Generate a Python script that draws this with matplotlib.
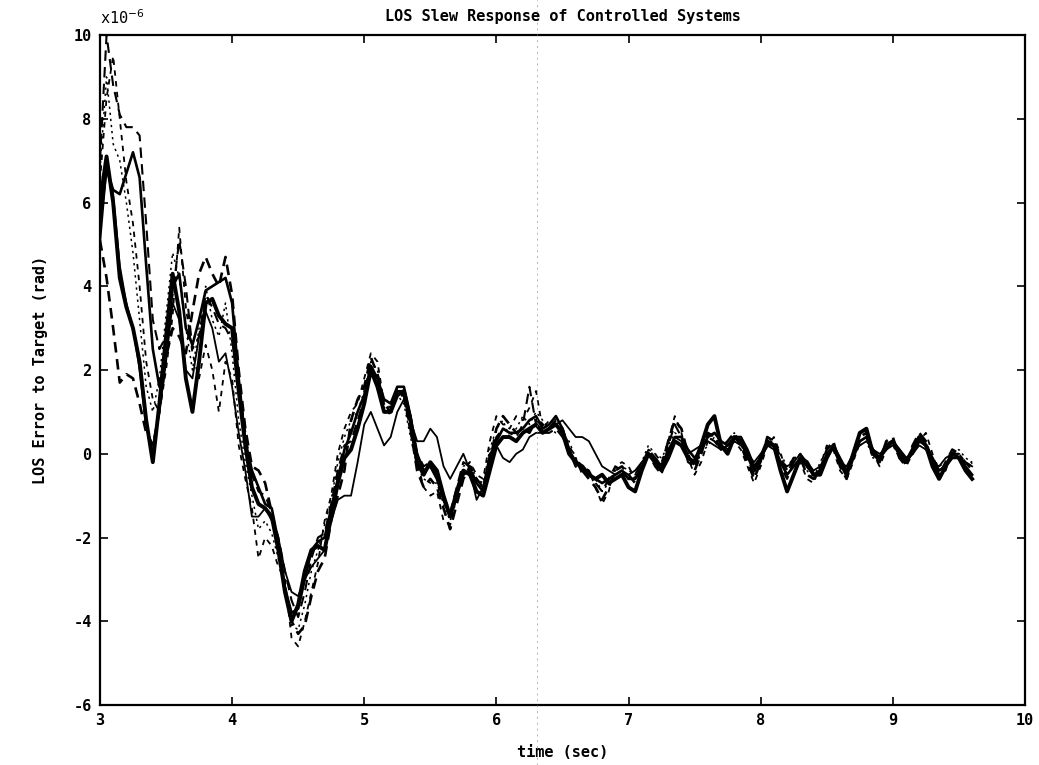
import matplotlib
matplotlib.use("Agg")
import matplotlib.pyplot as plt
from matplotlib.lines import Line2D
import numpy as np

plt.rcParams["axes.unicode_minus"] = False

# time base (sec), 0.05 s samples from 3.0 to 9.6
t = np.round(np.arange(3.0, 9.6001, 0.05), 2)

# LOS error responses (x1e-6 rad)
thick_solid = [
    6.0, 7.1, 6.0, 4.2, 3.5, 3.0, 2.2, 0.8, -0.2, 1.2,
    2.8, 4.3, 3.4, 1.8, 1.0, 2.2, 3.6, 3.7, 3.3, 3.1,
    3.0, 1.5, 0.2, -0.8, -1.2, -1.3, -1.5, -2.3, -3.3, -4.0,
    -3.6, -2.8, -2.3, -2.2, -2.3, -1.5, -0.7, -0.1, 0.1, 0.6,
    1.2, 2.0, 1.6, 1.0, 1.0, 1.4, 1.5, 0.8, -0.2, -0.5,
    -0.2, -0.4, -1.0, -1.5, -0.9, -0.4, -0.5, -0.9, -1.0, -0.4,
    0.2, 0.4, 0.4, 0.3, 0.5, 0.6, 0.7, 0.5, 0.6, 0.7,
    0.5, 0.0, -0.2, -0.3, -0.5, -0.6, -0.5, -0.7, -0.6, -0.5,
    -0.8, -0.9, -0.4, 0.0, -0.2, -0.4, -0.1, 0.3, 0.2, -0.1,
    -0.2, 0.2, 0.7, 0.9, 0.2, 0.0, 0.4, 0.3, 0.0, -0.4,
    -0.1, 0.3, 0.2, -0.4, -0.9, -0.5, -0.1, -0.2, -0.5, -0.5,
    -0.1, 0.2, -0.2, -0.5, 0.0, 0.5, 0.6, 0.0, -0.1, 0.2,
    0.3, 0.0, -0.2, 0.1, 0.4, 0.2, -0.3, -0.6, -0.3, 0.0,
    -0.1, -0.4, -0.6]

medium_solid = [
    5.5, 6.8, 6.3, 6.2, 6.7, 7.2, 6.6, 4.5, 2.5, 1.6,
    2.4, 4.0, 4.3, 3.0, 2.6, 3.2, 3.9, 4.0, 4.1, 4.2,
    3.6, 1.8, 0.3, -0.4, -0.8, -1.2, -1.3, -2.1, -3.2, -3.8,
    -3.7, -3.0, -2.3, -2.1, -2.0, -1.3, -0.6, 0.1, 0.5, 1.0,
    1.4, 2.1, 1.8, 1.3, 1.2, 1.6, 1.6, 0.9, 0.0, -0.4,
    -0.3, -0.6, -1.1, -1.5, -1.0, -0.5, -0.4, -0.7, -0.9, -0.2,
    0.3, 0.6, 0.5, 0.5, 0.6, 0.8, 0.9, 0.6, 0.7, 0.9,
    0.6, 0.1, -0.2, -0.4, -0.5, -0.6, -0.7, -0.6, -0.5, -0.4,
    -0.6, -0.6, -0.3, 0.0, -0.1, -0.3, 0.0, 0.4, 0.4, 0.1,
    -0.1, 0.1, 0.4, 0.5, 0.3, 0.2, 0.4, 0.4, 0.1, -0.3,
    -0.1, 0.2, 0.2, -0.2, -0.5, -0.3, -0.1, -0.3, -0.5, -0.4,
    -0.1, 0.2, -0.1, -0.4, -0.1, 0.3, 0.4, 0.1, -0.1, 0.1,
    0.3, 0.1, -0.1, 0.0, 0.3, 0.2, -0.1, -0.4, -0.3, -0.1,
    -0.1, -0.3, -0.5]

thin_solid = [
    5.0, 6.8, 6.2, 4.5, 3.6, 3.0, 2.0, 0.6, 0.2, 1.0,
    2.2, 3.6, 3.2, 2.0, 1.8, 2.8, 3.4, 3.0, 2.2, 2.4,
    1.6, 0.5, -0.4, -1.5, -1.5, -1.3, -1.6, -2.0, -2.8, -3.3,
    -3.4, -3.0, -2.7, -2.5, -2.3, -1.6, -1.1, -1.0, -1.0, -0.2,
    0.7, 1.0, 0.6, 0.2, 0.4, 1.0, 1.3, 0.8, 0.3, 0.3,
    0.6, 0.4, -0.3, -0.6, -0.3, 0.0, -0.4, -1.1, -0.8, 0.0,
    0.2, -0.1, -0.2, 0.0, 0.1, 0.4, 0.5, 0.5, 0.6, 0.7,
    0.8, 0.6, 0.4, 0.4, 0.3, 0.0, -0.3, -0.4, -0.5, -0.4,
    -0.5, -0.4, -0.2, 0.0, -0.1, -0.3, 0.1, 0.4, 0.3, 0.0,
    0.1, 0.2, 0.3, 0.2, 0.1, 0.2, 0.3, 0.2, 0.0, -0.2,
    0.0, 0.2, 0.1, -0.2, -0.3, -0.2, 0.0, -0.2, -0.4, -0.3,
    0.0, 0.1, -0.2, -0.3, 0.0, 0.2, 0.3, 0.1, 0.0, 0.1,
    0.2, 0.0, -0.2, 0.0, 0.2, 0.1, -0.2, -0.3, -0.1, 0.0,
    -0.1, -0.2, -0.3]

heavy_dash = [
    5.1, 4.2, 3.0, 1.7, 1.9, 1.8, 1.2, 0.5, 0.2, 1.0,
    2.3, 3.0, 2.8, 2.4, 3.4, 4.3, 4.7, 4.3, 4.0, 4.7,
    3.8, 2.0, 0.6, -0.3, -0.4, -0.7, -1.4, -2.3, -3.2, -4.0,
    -4.3, -4.1, -3.4, -2.8, -2.5, -1.6, -1.0, -0.4, 0.8, 1.3,
    1.6, 2.3, 1.9, 1.2, 1.0, 1.5, 1.4, 0.6, -0.4, -0.8,
    -0.6, -0.8, -1.3, -1.8, -1.2, -0.6, -0.3, -0.6, -0.8, -0.2,
    0.6, 0.9, 0.7, 0.5, 0.6, 0.5, 0.8, 0.7, 0.6, 0.8,
    0.6, 0.1, -0.3, -0.4, -0.6, -0.8, -1.1, -0.8, -0.4, -0.3,
    -0.5, -0.7, -0.3, 0.1, -0.1, -0.3, 0.3, 0.8, 0.6, 0.0,
    -0.4, 0.0, 0.5, 0.4, 0.1, 0.3, 0.5, 0.2, -0.2, -0.6,
    -0.2, 0.4, 0.3, -0.1, -0.4, -0.1, -0.1, -0.5, -0.6, -0.4,
    0.1, 0.3, -0.3, -0.6, -0.1, 0.4, 0.5, -0.1, -0.2, 0.3,
    0.4, -0.1, -0.3, 0.2, 0.5, 0.3, -0.2, -0.5, -0.2, 0.1,
    0.0, -0.3, -0.2]

peak_dash = [
    7.0, 10.0, 8.8, 8.1, 7.8, 7.8, 7.6, 5.5, 3.2, 2.5,
    2.8, 3.8, 5.1, 4.0, 2.5, 2.8, 3.8, 3.5, 3.1, 3.0,
    2.7, 1.7, 0.5, -0.5, -0.9, -1.0, -1.4, -2.0, -2.8, -3.5,
    -3.9, -3.3, -2.5, -2.0, -1.9, -1.2, -0.4, 0.2, 0.3, 0.8,
    1.3, 2.1, 1.8, 1.2, 1.1, 1.5, 1.5, 0.9, 0.0, -0.3,
    -0.2, -0.5, -1.0, -1.4, -0.8, -0.2, -0.3, -0.7, -0.8, -0.1,
    0.4, 0.6, 0.5, 0.4, 0.7, 1.6, 0.7, 0.5, 0.5, 0.6,
    0.4, 0.0, -0.2, -0.3, -0.4, -0.7, -0.9, -0.6, -0.3, -0.4,
    -0.6, -0.5, -0.2, 0.0, -0.3, -0.5, 0.2, 0.7, 0.4, -0.2,
    -0.3, 0.1, 0.4, 0.3, 0.1, 0.2, 0.4, 0.2, -0.1, -0.5,
    -0.2, 0.3, 0.2, -0.3, -0.6, -0.2, 0.0, -0.3, -0.5, -0.4,
    0.0, 0.2, -0.2, -0.4, -0.1, 0.3, 0.4, 0.0, -0.2, 0.2,
    0.3, -0.1, -0.2, 0.1, 0.4, 0.2, -0.2, -0.4, -0.3, 0.0,
    0.0, -0.2, -0.4]

thin_dash = [
    6.5, 8.5, 9.5, 8.0, 6.5, 5.5, 4.0, 2.2, 1.3, 1.0,
    2.0, 3.3, 5.4, 3.5, 2.4, 1.8, 2.6, 2.0, 1.0, 2.2,
    1.8, 0.2, -0.6, -1.3, -2.5, -2.0, -2.2, -2.7, -3.0, -4.4,
    -4.6, -4.0, -3.3, -2.6, -1.6, -1.0, 0.0, 0.6, 1.0, 1.2,
    1.8, 2.4, 2.2, 1.2, 0.9, 1.6, 1.3, 0.5, -0.2, -0.8,
    -1.0, -0.9, -1.6, -1.7, -1.0, -0.4, -0.2, -0.5, -0.6, 0.3,
    0.9, 0.7, 0.6, 0.9, 0.8, 1.1, 1.5, 0.6, 0.8, 0.7,
    0.6, 0.2, -0.1, -0.5, -0.4, -0.8, -1.2, -0.9, -0.3, -0.2,
    -0.3, -0.6, -0.4, 0.1, 0.0, -0.2, 0.3, 0.9, 0.5, -0.1,
    -0.5, -0.2, 0.3, 0.5, 0.3, 0.1, 0.3, 0.1, -0.3, -0.7,
    -0.3, 0.2, 0.4, 0.0, -0.4, -0.2, -0.2, -0.6, -0.7, -0.3,
    0.2, 0.1, -0.4, -0.6, -0.2, 0.3, 0.4, 0.0, -0.3, 0.1,
    0.3, 0.0, -0.3, 0.0, 0.3, 0.5, 0.0, -0.5, -0.4, 0.1,
    0.0, -0.2, -0.3]

dotted = [
    6.8, 9.0, 7.4, 7.0, 6.0, 4.8, 3.2, 1.6, 1.0, 1.8,
    3.3, 4.8, 4.2, 3.0, 2.0, 3.0, 4.0, 3.2, 2.8, 3.6,
    2.4, 0.8, -0.2, -1.0, -1.8, -1.6, -1.9, -2.5, -3.3, -4.1,
    -4.2, -3.6, -2.8, -2.3, -1.7, -1.1, -0.2, 0.4, 0.8, 1.0,
    1.5, 2.2, 2.0, 1.1, 1.0, 1.4, 1.2, 0.4, -0.3, -0.6,
    -0.7, -0.7, -1.2, -1.6, -1.1, -0.3, -0.2, -0.6, -0.7, 0.1,
    0.6, 0.8, 0.4, 0.6, 0.9, 0.7, 1.0, 0.8, 0.6, 0.5,
    0.5, 0.3, -0.1, -0.3, -0.5, -0.6, -0.9, -0.7, -0.4, -0.3,
    -0.4, -0.5, -0.2, 0.2, 0.0, -0.1, 0.2, 0.5, 0.4, 0.0,
    -0.3, 0.0, 0.2, 0.4, 0.2, 0.3, 0.5, 0.3, -0.1, -0.4,
    -0.2, 0.3, 0.3, 0.0, -0.3, -0.1, -0.2, -0.4, -0.6, -0.2,
    0.1, 0.2, -0.3, -0.5, -0.1, 0.2, 0.3, -0.1, -0.1, 0.2,
    0.2, -0.1, -0.2, 0.1, 0.4, 0.3, -0.1, -0.3, -0.2, 0.0,
    0.1, -0.1, -0.2]

x_ticks = [3, 4, 5, 6, 7, 8, 9, 10]
y_ticks = [-6, -4, -2, 0, 2, 4, 6, 8, 10]

font = "DejaVu Sans Mono"

fig = plt.figure(figsize=(10.39, 7.65), dpi=100)
ax = fig.add_axes([0.0962, 0.0784, 0.8903, 0.8758])

ax.plot(t, thin_solid, color="black", lw=1.3, ls="-")
ax.plot(t, medium_solid, color="black", lw=1.9, ls="-")
ax.plot(t, heavy_dash, color="black", lw=1.9, ls=(0, (4, 2.5)))
ax.plot(t, peak_dash, color="black", lw=1.5, ls=(0, (5, 3)))
ax.plot(t, thin_dash, color="black", lw=1.3, ls=(0, (3, 3)))
ax.plot(t, dotted, color="black", lw=1.1, ls=(0, (1.5, 2.5)))
ax.plot(t, thick_solid, color="black", lw=2.8, ls="-")

ax.set_xlim(3, 10)
ax.set_ylim(-6, 10)
ax.set_xticks(x_ticks)
ax.set_yticks(y_ticks)
ax.tick_params(direction="in", length=6, width=1.2, top=True, right=True,
               labelsize=11, pad=6)
for lab in ax.get_xticklabels() + ax.get_yticklabels():
    lab.set_fontfamily(font)
    lab.set_fontweight("bold")
for s in ax.spines.values():
    s.set_linewidth(1.6)

ax.set_title("LOS Slew Response of Controlled Systems", fontfamily=font,
             fontweight="bold", fontsize=11, pad=10)
ax.set_xlabel("time (sec)", fontfamily=font, fontweight="bold", fontsize=11,
              labelpad=12)
ax.set_ylabel("LOS Error to Target (rad)", fontfamily=font, fontweight="bold",
              fontsize=11, labelpad=18)
ax.text(0.0, 1.012, r"x10$^{-6}$", transform=ax.transAxes, fontfamily=font,
        fontsize=11, ha="left", va="bottom")

# faint fold line from the scanned original
fig.add_artist(Line2D([0.517, 0.517], [0.0, 1.0], transform=fig.transFigure,
                      color="gray", lw=0.7, ls=(0, (2, 4)), alpha=0.6))

fig.savefig("out.png", dpi=100)
